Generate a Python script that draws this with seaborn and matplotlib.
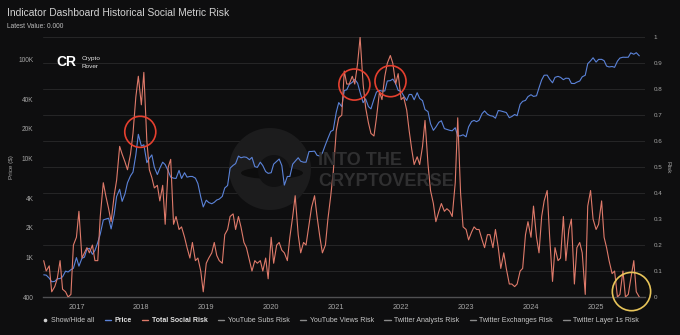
import matplotlib
matplotlib.use("Agg")
import matplotlib.pyplot as plt
from matplotlib.lines import Line2D
from matplotlib.patches import Circle, Ellipse
from matplotlib.ticker import NullLocator
import pandas as pd
import seaborn as sns

# ---------------------------------------------------------------------------
# Data: semi-monthly samples (1st and 15th of each month) from July 2016
# ---------------------------------------------------------------------------
start_date = "2016-07-01"

btc_price = [
    # 2016 (Jul-Dec)
    670, 665, 620, 570, 575, 610, 615, 640, 730, 715, 755, 780,
    # 2017
    1000, 820, 985, 1010, 1220, 1240, 1080, 1180, 1420, 1730, 2400, 2450,
    2500, 1950, 2720, 4150, 4900, 3700, 4400, 5700, 6700, 7300, 10900, 17600,
    # 2018
    13400, 13800, 9100, 10100, 10900, 8200, 6900, 8000, 9200, 8700, 7500, 6500,
    6350, 6300, 7600, 6300, 7200, 6500, 6600, 6600, 6350, 5600, 4100, 3250,
    # 2019
    3800, 3600, 3500, 3620, 3820, 3900, 4150, 5050, 5350, 8000, 8550, 8900,
    10600, 10200, 10400, 10300, 9750, 10300, 8300, 8150, 9200, 8500, 7400, 7100,
    # 2020
    7200, 8800, 9400, 9900, 8500, 5400, 6600, 6600, 8800, 9400, 10200, 9400,
    9200, 9200, 11800, 11800, 11900, 10800, 10600, 11400, 13800, 16000, 18800, 19400,
    # 2021
    29400, 36800, 33500, 48700, 49600, 56000, 59000, 63200, 57800, 46700, 36700, 40100,
    33500, 31800, 39900, 47000, 48800, 48100, 48200, 60800, 61300, 63600, 57200, 48900,
    # 2022
    47700, 43100, 38700, 44500, 44400, 39300, 46300, 40500, 38500, 31300, 29800, 22500,
    19300, 20800, 23300, 24100, 20100, 19700, 19300, 19100, 20500, 16900, 17000, 17400,
    # 2023
    16600, 20900, 23700, 24300, 23600, 24400, 28500, 30300, 28100, 27200, 26800, 25600,
    30600, 30300, 29700, 29200, 25900, 26600, 27900, 27100, 35400, 37900, 38700, 42300,
    # 2024
    44200, 42500, 43100, 51900, 62400, 69500, 69700, 63400, 58300, 66200, 67700, 66200,
    62700, 64900, 64600, 57500, 57300, 59200, 60800, 67000, 69500, 91000, 97200, 104400,
    # 2025 (Jan-Sep)
    94400, 100500, 100600, 97600, 86000, 84300, 85200, 83600, 96500, 103700, 105700, 105500,
    105700, 117000, 113300, 117400, 109200,
]

total_social_risk = [
    # 2016 (Jul-Dec)
    0.14, 0.10, 0.12, 0.02, 0.04, 0.07, 0.14, 0.03, 0.02, 0.00, 0.01, 0.20,
    # 2017
    0.23, 0.33, 0.15, 0.17, 0.19, 0.17, 0.20, 0.14, 0.14, 0.31, 0.44, 0.39,
    0.34, 0.29, 0.39, 0.45, 0.58, 0.55, 0.52, 0.49, 0.55, 0.63, 0.77, 0.85,
    # 2018
    0.74, 0.865, 0.60, 0.49, 0.46, 0.42, 0.43, 0.37, 0.43, 0.28, 0.50, 0.53,
    0.28, 0.31, 0.26, 0.27, 0.23, 0.19, 0.15, 0.21, 0.14, 0.15, 0.10, 0.02,
    # 2019
    0.13, 0.15, 0.17, 0.21, 0.16, 0.14, 0.13, 0.24, 0.26, 0.31, 0.32, 0.26,
    0.31, 0.27, 0.21, 0.19, 0.14, 0.10, 0.14, 0.13, 0.14, 0.10, 0.15, 0.07,
    # 2020
    0.23, 0.13, 0.20, 0.21, 0.18, 0.17, 0.14, 0.23, 0.31, 0.39, 0.24, 0.17,
    0.21, 0.20, 0.28, 0.345, 0.39, 0.31, 0.23, 0.17, 0.20, 0.30, 0.39, 0.48,
    # 2021
    0.64, 0.69, 0.70, 0.87, 0.82, 0.82, 0.85, 0.82, 0.90, 1.00, 0.82, 0.73,
    0.67, 0.63, 0.62, 0.69, 0.79, 0.76, 0.85, 0.90, 0.93, 0.90, 0.82, 0.86,
    # 2022
    0.76, 0.77, 0.72, 0.64, 0.57, 0.51, 0.54, 0.51, 0.58, 0.68, 0.51, 0.41,
    0.36, 0.29, 0.33, 0.36, 0.33, 0.34, 0.33, 0.31, 0.44, 0.69, 0.40, 0.27,
    # 2023
    0.26, 0.22, 0.25, 0.27, 0.26, 0.26, 0.22, 0.19, 0.24, 0.24, 0.19, 0.26,
    0.19, 0.11, 0.17, 0.11, 0.05, 0.05, 0.04, 0.05, 0.10, 0.11, 0.24, 0.29,
    # 2024
    0.23, 0.35, 0.23, 0.17, 0.31, 0.37, 0.41, 0.23, 0.06, 0.19, 0.14, 0.15,
    0.31, 0.14, 0.26, 0.30, 0.05, 0.19, 0.21, 0.17, 0.01, 0.35, 0.41, 0.30,
    # 2025 (Jan-Sep)
    0.26, 0.28, 0.37, 0.23, 0.19, 0.14, 0.09, 0.10, 0.00, 0.01, 0.10, 0.00,
    0.01, 0.07, 0.14, 0.02, 0.00,
]

years = [2017, 2018, 2019, 2020, 2021, 2022, 2023, 2024, 2025]
price_ticks = [400, 1000, 2000, 4000, 10000, 20000, 40000, 100000]
price_tick_labels = ["400", "1K", "2K", "4K", "10K", "20K", "40K", "100K"]
risk_ticks = [0, 0.1, 0.2, 0.3, 0.4, 0.5, 0.6, 0.7, 0.8, 0.9, 1]
risk_tick_labels = ["0", "0.1", "0.2", "0.3", "0.4", "0.5", "0.6", "0.7", "0.8", "0.9", "1"]

# Highlighted cycle tops (red rings) and the latest reading (yellow ring)
top_dates = ["2017-12-26", "2021-04-13", "2021-11-02"]
top_risk = [0.636, 0.818, 0.831]
latest_date = ["2025-07-19"]
latest_risk = [0.021]

legend_labels = ["Show/Hide all", "Price", "Total Social Risk", "YouTube Subs Risk",
                 "YouTube Views Risk", "Twitter Analysts Risk",
                 "Twitter Exchanges Risk", "Twitter Layer 1s Risk"]

# ---------------------------------------------------------------------------
# Styling
# ---------------------------------------------------------------------------
BG = "#0e0e0f"
BLUE = "#5b83d9"
RED = "#df7a6a"
GRID = "#262627"
TICK = "#a6a6a6"
RING_RED = "#e5402f"
RING_YELLOW = "#e8c55a"

sns.set_style("dark")
plt.rcParams["font.family"] = ["Liberation Sans", "DejaVu Sans"]

df = pd.DataFrame({
    "date": pd.date_range(start_date, periods=len(btc_price), freq="SMS"),
    "price": btc_price,
    "risk": total_social_risk,
})

W, H = 680, 335
fig = plt.figure(figsize=(W / 100, H / 100), dpi=100, facecolor=BG)
ax = fig.add_axes([43 / W, 1 - 297 / H, (645 - 43) / W, (297 - 37.3) / H])
ax.set_facecolor(BG)

# Horizontal guides follow the risk scale (0 .. 1 in steps of 0.1)
for f in risk_ticks[1:]:
    ax.plot([0, 1], [f, f], transform=ax.transAxes, color=GRID, lw=0.7, zorder=0)

# Watermark
ax.add_patch(Circle((2.70, 1.66), 0.41, transform=fig.dpi_scale_trans,
                    facecolor="#1c1c1d", edgecolor="none", zorder=0.5))
ax.add_patch(Ellipse((2.72, 1.62), 0.62, 0.12, transform=fig.dpi_scale_trans,
                     facecolor="#0d0d0d", edgecolor="none", zorder=0.6))
ax.add_patch(Circle((2.74, 1.64), 0.16, transform=fig.dpi_scale_trans,
                    facecolor="#111112", edgecolor="none", zorder=0.6))
fig.text(318 / W, 1 - 160 / H, "INTO THE", color="#303031", fontsize=13,
         fontweight="bold", va="center", ha="left", zorder=0.7)
fig.text(318 / W, 1 - 182 / H, "CRYPTOVERSE", color="#303031", fontsize=13,
         fontweight="bold", va="center", ha="left", zorder=0.7)

# Price (log scale, left axis)
sns.lineplot(data=df, x="date", y="price", ax=ax, color=BLUE, lw=0.8, zorder=3)
ax.set_yscale("log")
ax.set_ylim(400, 168000)
ax.set_yticks(price_ticks)
ax.set_yticklabels(price_tick_labels)
ax.yaxis.set_minor_locator(NullLocator())

# Total social risk (right axis)
ax2 = ax.twinx()
sns.lineplot(data=df, x="date", y="risk", ax=ax2, color=RED, lw=0.8, zorder=3)
ax2.set_ylim(0, 1)
ax2.set_yticks(risk_ticks)
ax2.set_yticklabels(risk_tick_labels)

# Rings around cycle tops and the latest value
ax2.scatter(pd.to_datetime(top_dates), top_risk, s=500, facecolors="none",
            edgecolors=RING_RED, linewidths=1.2, zorder=5)
ax2.scatter(pd.to_datetime(latest_date), latest_risk, s=760, facecolors="none",
            edgecolors=RING_YELLOW, linewidths=1.2, zorder=5, clip_on=False)

ax.set_xlim(pd.Timestamp("2016-06-27"), pd.Timestamp("2025-10-03"))
ax.set_xticks([pd.Timestamp(f"{y}-01-01") for y in years])
ax.set_xticklabels([str(y) for y in years])

for a in (ax, ax2):
    for side in ("top", "left", "right", "bottom"):
        a.spines[side].set_visible(False)
    a.set_xlabel("")
    a.set_ylabel("")
    a.grid(False)
ax.spines["bottom"].set_visible(True)
ax.spines["bottom"].set_color("#505052")
ax.spines["bottom"].set_linewidth(1.0)

ax.tick_params(axis="x", length=3, width=0.7, color="#505052", labelcolor=TICK,
               labelsize=5.3, pad=2)
ax.tick_params(axis="y", length=0, labelcolor=TICK, labelsize=4.7, pad=7)
ax2.tick_params(axis="y", length=0, labelcolor=TICK, labelsize=4.5, pad=6)

fig.text(12 / W, 1 - 167 / H, "Price ($)", rotation=90, color=TICK, fontsize=4.6,
         ha="center", va="center")
fig.text(668 / W, 1 - 167 / H, "Risk", rotation=270, color=TICK, fontsize=4.6,
         ha="center", va="center")

# Titles
fig.text(7 / W, 1 - 13 / H, "Indicator Dashboard Historical Social Metric Risk",
         color="#d2d2d2", fontsize=7.4, ha="left", va="center")
fig.text(7 / W, 1 - 26.5 / H, "Latest Value: 0.000", color="#bdbdbd",
         fontsize=4.8, ha="left", va="center")

# Brand mark
fig.text(56 / W, 1 - 62 / H, "CR", color="white", fontsize=10, fontweight="heavy",
         ha="left", va="center")
fig.text(82 / W, 1 - 58.5 / H, "Crypto", color="#e6e6e6", fontsize=4.6,
         ha="left", va="center")
fig.text(82 / W, 1 - 66 / H, "Rover", color="#e6e6e6", fontsize=4.6,
         ha="left", va="center")

# Legend
handles = [
    Line2D([], [], color="#cfcfcf", marker="o", markersize=1.6, lw=0),
    Line2D([], [], color=BLUE, lw=1.0),
    Line2D([], [], color=RED, lw=1.0),
    Line2D([], [], color="#8a8a8a", lw=1.0),
    Line2D([], [], color="#8a8a8a", lw=1.0),
    Line2D([], [], color="#8a8a8a", lw=1.0),
    Line2D([], [], color="#8a8a8a", lw=1.0),
    Line2D([], [], color="#8a8a8a", lw=1.0),
]
leg = fig.legend(handles, legend_labels, loc="center", bbox_to_anchor=(0.5, 1 - 321 / H),
                 ncol=8, frameon=False, fontsize=5, handlelength=0.9,
                 handletextpad=0.45, columnspacing=1.55, labelcolor="#c8c8c8")
for i, t in enumerate(leg.get_texts()):
    if i in (1, 2):
        t.set_fontweight("bold")
        t.set_color("#e0e0e0")

fig.savefig("out.png", dpi=100, facecolor=BG)
